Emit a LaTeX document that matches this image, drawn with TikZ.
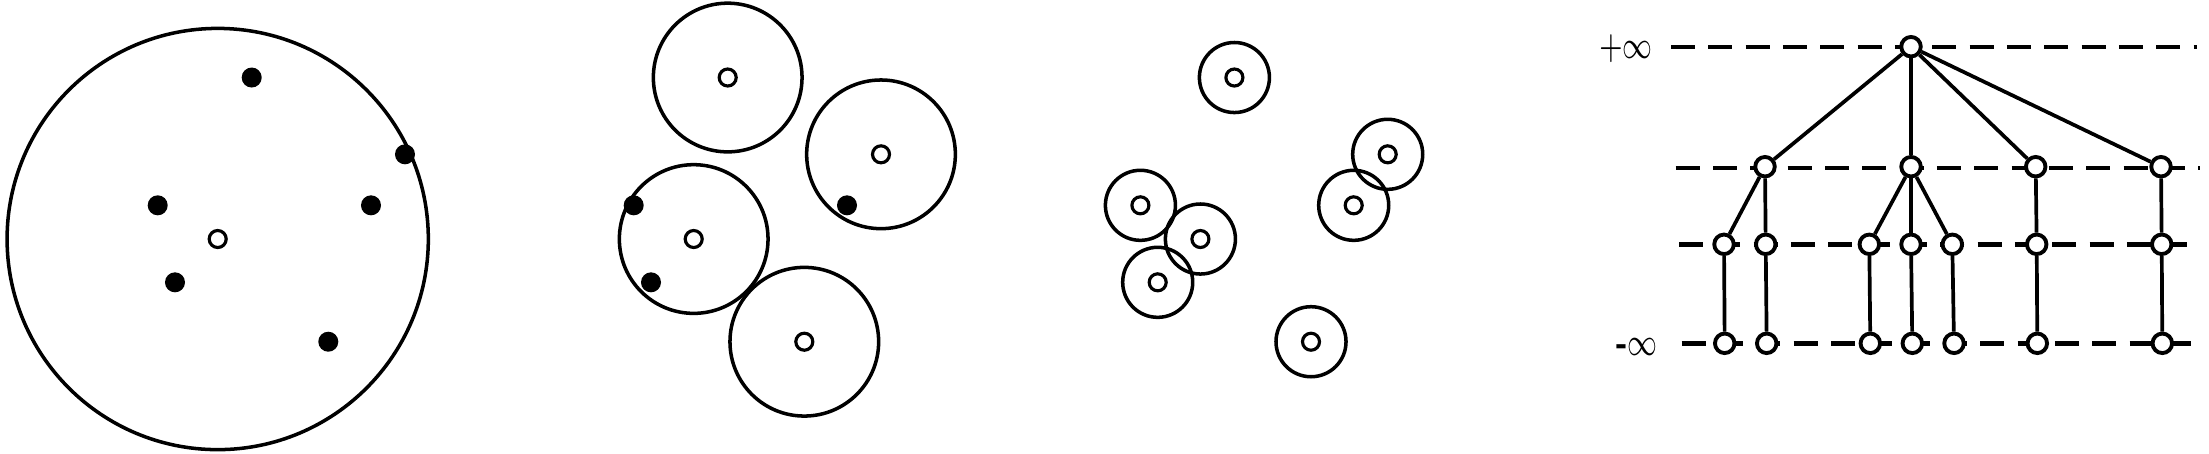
\documentclass[tikz,border=0pt]{standalone}
\usepackage{graphicx}
\begin{document}
\begin{tikzpicture}[x=0.01cm,y=-0.01cm,
  ring/.style={line width=1.0pt},
  blackdot/.style={circle,fill=black,inner sep=0pt,minimum size=0.2cm},
  hollow/.style={circle,draw,fill=white,line width=0.9pt,inner sep=0pt,minimum size=0.17cm},
  tnode/.style={circle,draw,fill=white,line width=1.1pt,inner sep=0pt,minimum size=0.195cm},
  levelline/.style={dash pattern=on 0.24cm off 0.133cm,line width=1.25pt},
  link/.style={line width=1.05pt},
  lab/.style={inner sep=0pt}]
\useasboundingbox (0,0) rectangle (2209,453);

% ---------- panel 1 ----------
\draw[ring] (217.7,239) circle[radius=2.105cm];
\node[hollow] (p1o) at (217.7,239) {};
\node[blackdot] (p1a) at (251.7,77.5) {};
\node[blackdot] (p1b) at (405,154.3) {};
\node[blackdot] (p1c) at (157.7,205.3) {};
\node[blackdot] (p1d) at (371,205.3) {};
\node[blackdot] (p1e) at (175,282.3) {};
\node[blackdot] (p1f) at (328.3,341.7) {};

% ---------- panel 2 ----------
\foreach \nm/\px/\py in {o/217.7/239,a/251.7/77.5,b/405/154.3,f/328.3/341.7}{
  \draw[ring] (\px+476,\py) circle[radius=0.743cm];
  \node[hollow] (p2\nm) at (\px+476,\py) {};
}
\node[blackdot] (p2c) at (633.7,205.3) {};
\node[blackdot] (p2d) at (847,205.3) {};
\node[blackdot] (p2e) at (651,282.3) {};

% ---------- panel 3 ----------
\foreach \nm/\px/\py in {o/217.7/239,a/251.7/77.5,b/405/154.3,c/157.7/205.3,d/371/205.3,e/175/282.3,f/328.3/341.7}{
  \draw[ring] (\px+982.7,\py) circle[radius=0.35cm];
  \node[hollow] (p3\nm) at (\px+982.7,\py) {};
}

% ---------- panel 4 ----------
\coordinate (l1s) at (1671,47);    \coordinate (l1e) at (2197,47);
\coordinate (l2s) at (1675.7,168); \coordinate (l2e) at (2200,168);
\coordinate (l3s) at (1679,244.3); \coordinate (l3e) at (2187,244.3);
\coordinate (l4s) at (1681.7,343.3); \coordinate (l4e) at (2190.5,343.3);
\draw[levelline] (l1s) -- (l1e);
\draw[levelline] (l2s) -- (l2e);
\draw[levelline] (l3s) -- (l3e);
\draw[levelline] (l4s) -- (l4e);

\node[lab] (pinf) at (1626,49) {\scalebox{1}[1.4]{\fontsize{8}{9}\selectfont$+\infty$}};
\node[lab] (minf) at (1637,346.5) {\scalebox{1}[1.4]{\fontsize{8}{9}\selectfont\textbf{-}$\infty$}};

\node[tnode] (T) at (1911,46.7) {};
\node[tnode] (A1) at (1765,166.7) {};
\node[tnode] (A2) at (1911,166.7) {};
\node[tnode] (A3) at (2035.7,166.7) {};
\node[tnode] (A4) at (2161,166.7) {};
\node[tnode] (B1) at (1724,244.3) {};
\node[tnode] (B2) at (1765.7,244.3) {};
\node[tnode] (B3) at (1869.3,244.3) {};
\node[tnode] (B4) at (1911,244.3) {};
\node[tnode] (B5) at (1952.3,244.3) {};
\node[tnode] (B6) at (2036.7,244.3) {};
\node[tnode] (B7) at (2161.7,244.3) {};
\node[tnode] (C1) at (1724.7,343.3) {};
\node[tnode] (C2) at (1766.7,343.3) {};
\node[tnode] (C3) at (1870.3,343.3) {};
\node[tnode] (C4) at (1912.3,343.3) {};
\node[tnode] (C5) at (1954,343.3) {};
\node[tnode] (C6) at (2037.3,343.3) {};
\node[tnode] (C7) at (2162.3,343.3) {};

\foreach \a/\b in {T/A1,T/A2,T/A3,T/A4,A1/B1,A1/B2,A2/B3,A2/B4,A2/B5,A3/B6,A4/B7,
                   B1/C1,B2/C2,B3/C3,B4/C4,B5/C5,B6/C6,B7/C7}{
  \draw[link] (\a) -- (\b);
}
\end{tikzpicture}
\end{document}
